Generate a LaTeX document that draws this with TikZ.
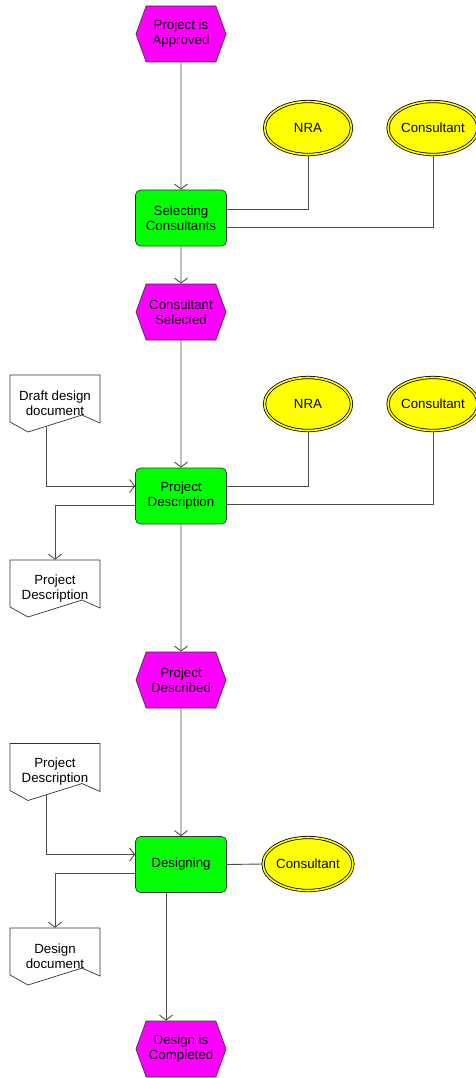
\documentclass[tikz,border=0pt]{standalone}
\usepackage{fontspec}
\setmainfont{Liberation Sans}
\usetikzlibrary{shapes.symbols, shapes.geometric, arrows.meta}
\definecolor{evmagenta}{RGB}{255,0,255}
\definecolor{fngreen}{RGB}{0,255,0}
\definecolor{unyellow}{RGB}{255,255,0}

\begin{document}
\begin{tikzpicture}[x=1pt,y=-1pt,
    every node/.style={font=\fontsize{13.3}{15}\selectfont, align=center, inner sep=0pt},
    event/.style={signal, signal to=west and east, signal pointer angle=140, draw=black!80, line width=0.7pt, fill=evmagenta, minimum width=90pt, minimum height=56pt},
    func/.style={rectangle, rounded corners=5pt, draw=black!80, line width=0.7pt, fill=fngreen, minimum width=91pt, minimum height=56pt},
    unit/.style={ellipse, draw=black, line width=0.8pt, double=unyellow, double distance=1.6pt, fill=unyellow, minimum width=87pt, minimum height=53pt},
    docu/.style={minimum width=90pt, minimum height=57pt},
    conn/.style={draw=black!70, line width=0.9pt},
    flow/.style={conn, -{Straight Barb[length=5pt,width=13pt]}}]
    \useasboundingbox (0,0) rectangle (476,1078);

    % events
    \node[event] (e1) at (181,34)   {Project is\\Approved};
    \node[event] (e2) at (181,312)  {Consultant\\Selected};
    \node[event] (e3) at (181,680)  {Project\\Described};
    \node[event] (e4) at (181,1049) {Design is\\Completed};

    % functions
    \node[func] (sel) at (181,218)   {Selecting\\Consultants};
    \node[func] (desc) at (181,496)  {Project\\Description};
    \node[func] (dsgn) at (181,864.5) {Designing};

    % organisational units
    \node[unit] (nra1) at (308,128) {NRA};
    \node[unit] (con1) at (433,128) {Consultant};
    \node[unit] (nra2) at (308,404) {NRA};
    \node[unit] (con2) at (433,404) {Consultant};
    \node[unit] (con3) at (308,864) {Consultant};

    % documents
    \node[docu] (dd1) at (55,403.5) {Draft design\\document};
    \node[docu] (pd2) at (55,588.5) {Project\\Description};
    \node[docu] (pd3) at (55,772)   {Project\\Description};
    \node[docu] (dd4) at (55,956.5) {Design\\document};
    \foreach \d in {dd1,pd2,pd3,dd4}
        \draw[black!80, line width=0.7pt] ([shift={(-45,-28.5)}]\d.center) -- ([shift={(45,-28.5)}]\d.center)
            -- ([shift={(45,19.5)}]\d.center) -- ([shift={(27,11.5)}]\d.center)
            -- ([shift={(-27,28.5)}]\d.center) -- ([shift={(-45,18.5)}]\d.center) -- cycle;

    % control flow
    \draw[flow] (e1) -- (sel);
    \draw[flow] (sel) -- (e2);
    \draw[flow] (e2) -- (desc);
    \draw[flow] (desc) -- (e3);
    \draw[flow] (e3) -- (dsgn);
    \draw[flow] ([xshift=-15pt]dsgn.south) -- ([xshift=-15pt]e4.north);

    % units to functions
    \draw[conn] (nra1.south) |- ([yshift=9pt]sel.east);
    \draw[conn] (con1.south) |- ([yshift=-9pt]sel.east);
    \draw[conn] (nra2.south) |- ([yshift=10pt]desc.east);
    \draw[conn] (con2.south) |- ([yshift=-8pt]desc.east);
    \draw[conn] (dsgn.east) -- (con3.west);

    % documents in and out
    \draw[flow] ([shift={(-9,23)}]dd1.center) |- ([yshift=10pt]desc.west);
    \draw[flow] ([yshift=-9pt]desc.west) -| (pd2.north);
    \draw[flow] ([shift={(-9,23)}]pd3.center) |- ([yshift=10pt]dsgn.west);
    \draw[flow] ([yshift=-9pt]dsgn.west) -| (dd4.north);
\end{tikzpicture}
\end{document}
